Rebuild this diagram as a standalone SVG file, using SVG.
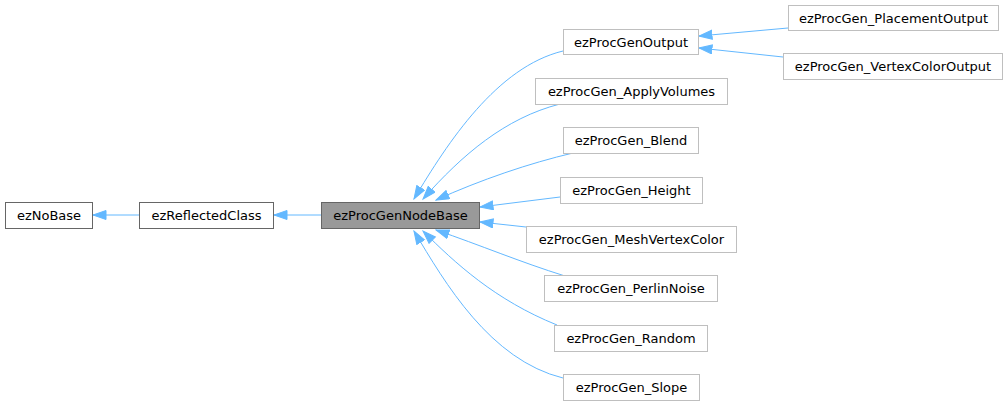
<svg xmlns="http://www.w3.org/2000/svg" width="1008" height="405" viewBox="0 0 1008 405">
<style>
.n rect{fill:#fff;stroke:#bfbfbf;stroke-width:1}
.n.d rect{stroke:#666}
.n.c rect{fill:#999;stroke:#666}
.n text{font-family:"DejaVu Sans",sans-serif;font-size:13px;fill:#000;text-anchor:middle}
.e path{fill:none;stroke:#63b8ff;stroke-width:1;marker-end:url(#a)}
</style>
<defs>
<marker id="a" markerUnits="userSpaceOnUse" markerWidth="15" markerHeight="11" refX="13.5" refY="5" orient="auto">
<path d="M0.5,0.5 L13.5,5 L0.5,9.5 z" fill="#63b8ff" stroke="#63b8ff" stroke-width="1"/>
</marker>
</defs>
<g class="e">
<path d="M139,215 L93,215"/>
<path d="M321,215 L274,215"/>
<path d="M563,51 C497,67 448,142 414,199"/>
<path d="M560,104 C505,118 462,155 423,199"/>
<path d="M573,153 C530,163 480,180 436,200"/>
<path d="M560,197 L480,207"/>
<path d="M526,227 L480,222"/>
<path d="M565,276 C520,262 480,245 436,230"/>
<path d="M557,325 C495,300 455,263 423,231"/>
<path d="M563,378 C490,360 445,283 414,231"/>
<path d="M788,28 L699,36"/>
<path d="M783,57 L699,48"/>
</g>
<g id="ezNoBase" class="n d"><rect x="5.5" y="202.5" width="87" height="26"/><text x="49" y="220">ezNoBase</text></g>
<g id="ezReflectedClass" class="n d"><rect x="139.5" y="202.5" width="134" height="26"/><text x="206.5" y="220">ezReflectedClass</text></g>
<g id="ezProcGenNodeBase" class="n c"><rect x="321.5" y="202.5" width="158" height="26"/><text x="400.5" y="220">ezProcGenNodeBase</text></g>
<g id="ezProcGenOutput" class="n"><rect x="563.5" y="29.5" width="135" height="25"/><text x="631" y="46.5">ezProcGenOutput</text></g>
<g id="ezProcGen_ApplyVolumes" class="n"><rect x="535.5" y="78.5" width="192" height="26"/><text x="631.5" y="96">ezProcGen_ApplyVolumes</text></g>
<g id="ezProcGen_Blend" class="n"><rect x="563.5" y="127.5" width="135" height="26"/><text x="631" y="145">ezProcGen_Blend</text></g>
<g id="ezProcGen_Height" class="n"><rect x="560.5" y="177.5" width="142" height="26"/><text x="631.5" y="195">ezProcGen_Height</text></g>
<g id="ezProcGen_MeshVertexColor" class="n"><rect x="526.5" y="226.5" width="210" height="26"/><text x="631.5" y="244">ezProcGen_MeshVertexColor</text></g>
<g id="ezProcGen_PerlinNoise" class="n"><rect x="544.5" y="275.5" width="173" height="26"/><text x="631" y="293">ezProcGen_PerlinNoise</text></g>
<g id="ezProcGen_Random" class="n"><rect x="554.5" y="325.5" width="153" height="26"/><text x="631" y="343">ezProcGen_Random</text></g>
<g id="ezProcGen_Slope" class="n"><rect x="563.5" y="374.5" width="136" height="26"/><text x="631.5" y="392">ezProcGen_Slope</text></g>
<g id="ezProcGen_PlacementOutput" class="n"><rect x="788.5" y="5.5" width="210" height="25"/><text x="893.5" y="22.5">ezProcGen_PlacementOutput</text></g>
<g id="ezProcGen_VertexColorOutput" class="n"><rect x="783.5" y="53.5" width="219" height="26"/><text x="893" y="71">ezProcGen_VertexColorOutput</text></g>
</svg>
